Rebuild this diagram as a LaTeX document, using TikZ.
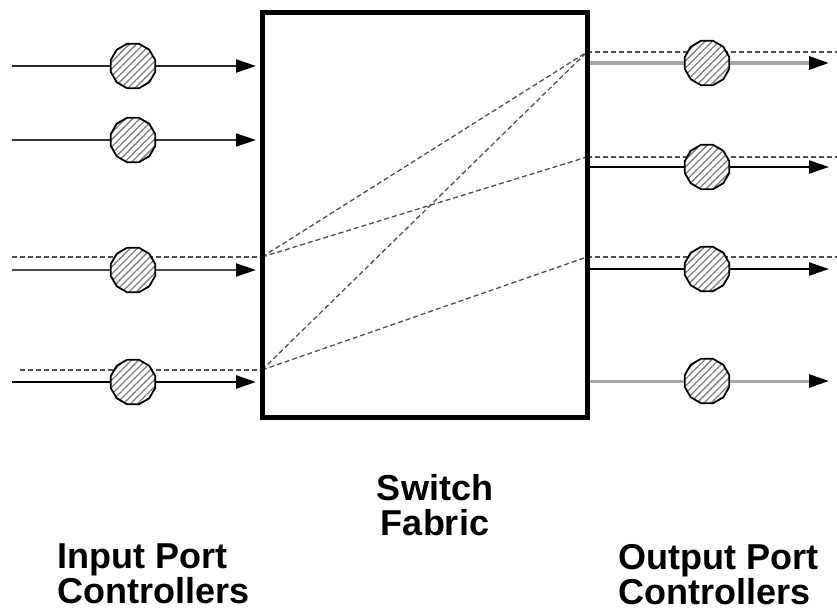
\documentclass[tikz,border=0pt]{standalone}
\usepackage{fontspec}
\setmainfont{Liberation Sans}
\usetikzlibrary{arrows.meta,calc,patterns.meta,shapes.geometric}
\definecolor{LinkGray}{HTML}{A8A8A8}
\definecolor{CellGray}{HTML}{505050}

\begin{document}
\begin{tikzpicture}[x=1pt,y=-1pt,
  port/.style={regular polygon,regular polygon sides=12,minimum size=46pt,inner sep=0pt,
    draw=black,line width=1.8pt,preaction={fill=white},
    pattern={Lines[angle=45,distance=5pt,line width=1.3pt]},pattern color=gray},
  link/.style={-{Triangle[length=20pt,width=13pt,color=black]}},
  cell/.style={CellGray,line width=1.3pt,dash pattern=on 5pt off 3pt},
  label/.style={inner sep=0pt,font=\fontsize{36}{35}\selectfont\bfseries}]
\useasboundingbox (0,0) rectangle (837,612);
% dashed cells through the fabric
\coordinate (inq3) at (262,257);
\coordinate (inq4) at (262,370);
\coordinate (outq1) at (587,52);
\coordinate (outq2) at (587,157);
\coordinate (outq3) at (587,257);
\draw[cell] (12,257) coordinate (inz3) -- (inq3);
\draw[cell] (20,370) coordinate (inz4) -- (inq4);
\foreach \i in {1,2,3}{\draw[cell] (outq\i) -- ($(outq\i)+(250,0)$);}
\draw[cell] (inq3) -- (outq1);
\draw[cell] (inq3) -- (outq2);
\draw[cell] (inq4) -- (outq1);
\draw[cell] (inq4) -- (outq3);
% input ports
\foreach \i/\y/\c/\w in {1/66/black!85/2.2pt,2/140/black!80/1.8pt,3/270/black!70/1.8pt,4/382/black/2.6pt}{
  \coordinate (ins\i) at (12,\y);
  \coordinate (ine\i) at (256,\y);
  \node[port] (inp\i) at (133,\y) {};
  \draw[\c,line width=\w] (ins\i) -- (inp\i);
  \draw[link,\c,line width=\w] (inp\i) -- (ine\i);
}
% output ports
\foreach \i/\y/\c/\w in {1/63/LinkGray/3.5pt,2/167/black/2.2pt,3/269/black/2.4pt,4/381/LinkGray/3pt}{
  \coordinate (outs\i) at (589,\y);
  \coordinate (oute\i) at (829,\y);
  \node[port] (outp\i) at (707,\y) {};
  \draw[\c,line width=\w] (outs\i) -- (outp\i);
  \draw[link,\c,line width=\w] (outp\i) -- (oute\i);
}
% switch fabric
\node[draw,line width=4.5pt,minimum width=325pt,minimum height=405pt,inner sep=0pt] (fabric) at (425,215) {};
\node[label,align=center,anchor=north] (fabtext) at (435,474) {Switch\\Fabric};
\node[label,align=left,anchor=north west] (intext) at (57,544) {Input Port\\Controllers};
\node[label,align=left,anchor=north west] (outtext) at (618,544) {Output Port\\Controllers};
\end{tikzpicture}
\end{document}
